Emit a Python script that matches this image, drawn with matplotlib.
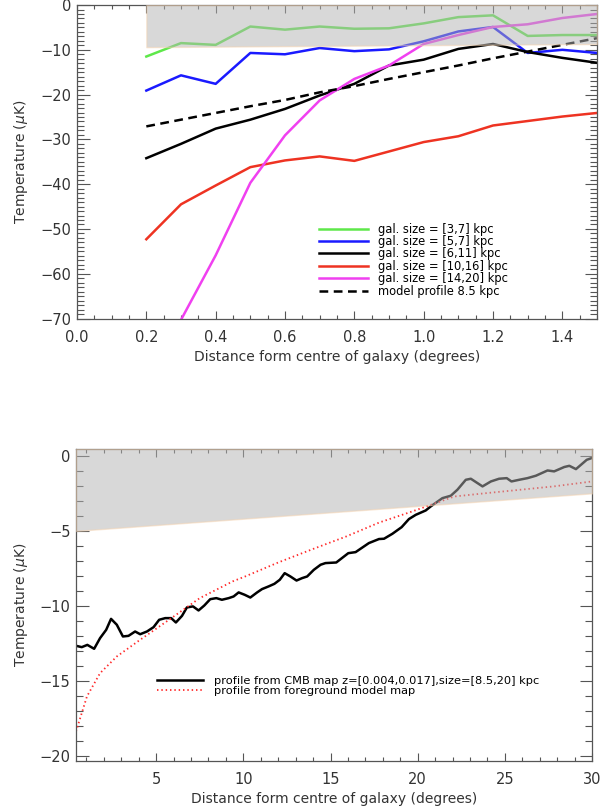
#!/usr/bin/env python3
# Profils de température autour des galaxies (deux panneaux, style IDL)
import matplotlib
matplotlib.use("Agg")
import matplotlib.pyplot as plt
from matplotlib.ticker import MultipleLocator

# ──────────────────────────────────────────────────────────────
# Données – panneau du haut
# ──────────────────────────────────────────────────────────────
dist_deg = [0.2, 0.3, 0.4, 0.5, 0.6, 0.7, 0.8, 0.9, 1.0, 1.1, 1.2, 1.3, 1.4, 1.5]

t_3_7   = [-11.5, -8.5, -8.9, -4.8, -5.5, -4.8, -5.3, -5.2, -4.1, -2.7, -2.3, -6.9, -6.7, -6.7]
t_5_7   = [-19.1, -15.7, -17.6, -10.7, -11.0, -9.6, -10.3, -9.9, -8.1, -5.9, -4.9, -10.7, -10.0, -10.7]
t_6_11  = [-34.2, -31.0, -27.6, -25.6, -23.2, -20.2, -17.6, -13.5, -12.2, -9.8, -8.7, -10.5, -11.8, -12.9]
t_10_16 = [-52.3, -44.5, -40.3, -36.2, -34.7, -33.8, -34.8, -32.7, -30.6, -29.3, -26.9, -25.9, -24.9, -24.1]
t_14_20 = [-90.0, -70.3, -55.9, -39.7, -29.1, -21.3, -16.5, -13.5, -8.7, -6.7, -4.9, -4.3, -2.9, -2.0]
t_model = [-27.1, -25.6, -24.1, -22.6, -21.2, -19.5, -18.1, -16.5, -15.0, -13.5, -11.9, -10.4, -8.9, -7.4]

labels_top = ["gal. size = [3,7] kpc", "gal. size = [5,7] kpc", "gal. size = [6,11] kpc",
              "gal. size = [10,16] kpc", "gal. size = [14,20] kpc", "model profile 8.5 kpc"]

# bande grisée (haut)
band_top_x  = [0.2, 1.5]
band_top_lo = [-9.4, -8.7]
band_top_hi = [0.0, 0.0]

# ──────────────────────────────────────────────────────────────
# Données – panneau du bas
# ──────────────────────────────────────────────────────────────
cmb_x = [0.4, 0.73, 1.05, 1.44, 1.78, 2.13, 2.41, 2.74, 3.09, 3.41,
         3.79, 4.08, 4.47, 4.85, 5.17, 5.52, 5.86, 6.13, 6.48, 6.76,
         7.11, 7.43, 7.76, 8.1, 8.45, 8.77, 9.16, 9.44, 9.73, 10.08,
         10.4, 10.79, 11.07, 11.45, 11.78, 12.09, 12.37, 12.7, 13.05, 13.37,
         13.66, 14.04, 14.43, 14.71, 15.33, 16.02, 16.44, 17.2, 17.78, 18.07,
         18.55, 19.08, 19.5, 19.89, 20.46, 20.75, 21.42, 21.9, 22.28, 22.76,
         23.05, 23.72, 24.2, 24.67, 25.11, 25.38, 25.82, 26.3, 26.78, 27.45,
         27.83, 28.41, 28.7, 29.08, 29.37, 29.7, 30.0]
cmb_t = [-12.64, -12.73, -12.58, -12.84, -12.13, -11.58, -10.85, -11.24, -12.02, -11.98,
         -11.69, -11.87, -11.69, -11.4, -10.91, -10.8, -10.8, -11.09, -10.65, -10.09,
         -10.02, -10.29, -9.96, -9.54, -9.47, -9.58, -9.47, -9.36, -9.09, -9.25,
         -9.43, -9.09, -8.87, -8.69, -8.52, -8.25, -7.81, -8.03, -8.3, -8.14,
         -8.03, -7.59, -7.25, -7.14, -7.1, -6.48, -6.41, -5.81, -5.54, -5.52,
         -5.19, -4.75, -4.21, -3.93, -3.64, -3.37, -2.82, -2.66, -2.26, -1.6,
         -1.53, -2.04, -1.71, -1.53, -1.49, -1.71, -1.6, -1.49, -1.33, -0.98,
         -1.04, -0.75, -0.67, -0.89, -0.6, -0.27, -0.15]

fg_x = [0.4, 1.03, 1.78, 2.74, 4.08, 5.6, 7.5, 9.4, 10.1, 12.0,
        14.0, 15.9, 17.8, 19.7, 20.5, 22.1, 24.0, 25.9, 27.8, 30.0]
fg_t = [-18.34, -16.0, -14.46, -13.35, -12.24, -11.02, -9.47, -8.35, -8.03, -7.1,
        -6.2, -5.37, -4.44, -3.7, -3.37, -2.71, -2.48, -2.26, -2.04, -1.71]

labels_bot = ["profile from CMB map z=[0.004,0.017],size=[8.5,20] kpc",
              "profile from foreground model map"]

# bande grisée (bas)
band_bot_x  = [0.4, 30.0]
band_bot_lo = [-5.0, -2.5]
band_bot_hi = [0.45, 0.45]

# ──────────────────────────────────────────────────────────────
# Style
# ──────────────────────────────────────────────────────────────
SPINE = "#555555"
TXT = "#333333"
plt.rcParams["font.family"] = "DejaVu Sans"
plt.rcParams["mathtext.fontset"] = "dejavusans"


def idl_axes(ax, xmaj, xmin, ymaj, ymin):
    """Graduations vers l'intérieur sur les quatre côtés, façon IDL."""
    ax.xaxis.set_major_locator(MultipleLocator(xmaj))
    ax.xaxis.set_minor_locator(MultipleLocator(xmin))
    ax.yaxis.set_major_locator(MultipleLocator(ymaj))
    ax.yaxis.set_minor_locator(MultipleLocator(ymin))
    ax.tick_params(which="both", direction="in", top=True, right=True,
                   colors=SPINE, labelcolor=TXT, labelsize=10.5, width=0.8)
    ax.tick_params(axis="x", which="major", length=6, pad=8)
    ax.tick_params(axis="x", which="minor", length=3)
    ax.tick_params(axis="y", which="major", length=9, pad=4)
    ax.tick_params(axis="y", which="minor", length=5)
    for s in ax.spines.values():
        s.set_color(SPINE)
        s.set_linewidth(0.9)
    ax.set_xlabel("Distance form centre of galaxy (degrees)", fontsize=10, color=TXT)
    ax.set_ylabel(r"Temperature ($\mu$K)", fontsize=10, color=TXT)


fig = plt.figure(figsize=(6.12, 8.11), dpi=100)

# ── panneau du haut ──
ax1 = fig.add_axes([0.1258, 0.6067, 0.8497, 0.3871])
ax1.plot(dist_deg, t_3_7,   color="#5ee84a", lw=1.8, label=labels_top[0])
ax1.plot(dist_deg, t_5_7,   color="#1a1aff", lw=1.8, label=labels_top[1])
ax1.plot(dist_deg, t_6_11,  color="black",   lw=1.8, label=labels_top[2])
ax1.plot(dist_deg, t_10_16, color="#ee3322", lw=1.8, label=labels_top[3])
ax1.plot(dist_deg, t_14_20, color="#f040f0", lw=1.8, label=labels_top[4])
ax1.plot(dist_deg, t_model, color="black",   lw=1.8, ls=(0, (3.5, 2.2)), label=labels_top[5])
ax1.fill_between(band_top_x, band_top_lo, band_top_hi, facecolor=(0.7, 0.7, 0.7),
                 alpha=0.5, edgecolor="#f5d2ae", lw=1.0, zorder=3)
ax1.set_xlim(0.0, 1.5)
ax1.set_ylim(-70.1, 0.0)
idl_axes(ax1, 0.2, 0.05, 10, 1)
ax1.xaxis.set_major_formatter(plt.FormatStrFormatter("%.1f"))
ax1.xaxis.set_label_coords(0.5, -0.098)
ax1.yaxis.set_label_coords(-0.09, 0.5)
ax1.legend(loc="upper left", bbox_to_anchor=(0.465, 0.307), frameon=False,
           fontsize=8.3, handlelength=4.3, handletextpad=0.8, labelspacing=-0.05,
           borderpad=0, borderaxespad=0)

# ── panneau du bas ──
ax2 = fig.add_axes([0.1242, 0.0617, 0.8431, 0.3847])
ax2.plot(cmb_x, cmb_t, color="black", lw=1.8, label=labels_bot[0])
ax2.plot(fg_x, fg_t, color="#ff2a2a", lw=1.3, ls=(0, (0.8, 1.6)), label=labels_bot[1])
ax2.fill_between(band_bot_x, band_bot_lo, band_bot_hi, facecolor=(0.7, 0.7, 0.7),
                 alpha=0.5, edgecolor="#f5d2ae", lw=1.0, zorder=3)
ax2.set_xlim(0.4, 30.0)
ax2.set_ylim(-20.3, 0.45)
idl_axes(ax2, 5, 1, 5, 1)
ax2.xaxis.set_label_coords(0.5, -0.1)
ax2.yaxis.set_label_coords(-0.09, 0.5)
ax2.legend(loc="upper left", bbox_to_anchor=(0.157, 0.272), frameon=False,
           fontsize=8.2, handlelength=4.0, handletextpad=1.0, labelspacing=-0.05,
           borderpad=0, borderaxespad=0)

fig.savefig("out.png", dpi=100)
